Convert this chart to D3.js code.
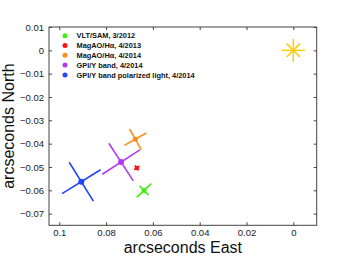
<!DOCTYPE html>
<html><head><meta charset="utf-8">
<script src="https://cdn.jsdelivr.net/npm/d3@7/dist/d3.min.js"></script>
<style>html,body{margin:0;padding:0;background:#fff;}svg{display:block;font-family:"Liberation Sans",Arial,sans-serif;}</style>
</head><body><svg id="c" width="350" height="262"></svg>
<script>
const seriesLabels = ["VLT/SAM, 3/2012", "MagAO/H\u03b1, 4/2013", "MagAO/H\u03b1, 4/2014", "GPI/Y band, 4/2014", "GPI/Y band polarized light, 4/2014"];
const seriesColors = ["#44ee11", "#ff1111", "#ff8c1a", "#b03cf0", "#2244ff"];
const eastOffsets = [0.0638, 0.0669, 0.0675, 0.0736, 0.0906];
const northOffsets = [-0.0601, -0.0504, -0.0381, -0.0479, -0.0563];
const sepErrors = [0.0043, 0.0013, 0.0054, 0.0096, 0.0097];
const tanErrors = [0.0028, 0.0013, 0.0051, 0.0096, 0.0098];
const starPos = [0, 0];
const xTicks = [0.1, 0.08, 0.06, 0.04, 0.02, 0];
const yTicks = [0.01, 0, -0.01, -0.02, -0.03, -0.04, -0.05, -0.06, -0.07];

const svg = d3.select("#c");
const L = 49, R = 316.7, T = 27, B = 225.3;
const x = d3.scaleLinear().domain([0.1044, -0.01]).range([L, R]);
const y = d3.scaleLinear().domain([-0.075, 0.01]).range([B, T]);
const fmt = v => v === 0 ? "0" : (v < 0 ? "\u2212" : "") + String(Math.abs(v));

// frame
svg.append("rect").attr("x", L).attr("y", T).attr("width", R - L).attr("height", B - T)
  .attr("fill", "none").attr("stroke", "#444").attr("stroke-width", 1);

// axes with inward ticks
const ax = svg.append("g").attr("transform", `translate(0,${B})`)
  .call(d3.axisBottom(x).tickValues(xTicks).tickSizeInner(-3).tickSizeOuter(0).tickPadding(4).tickFormat(fmt));
const axT = svg.append("g").attr("transform", `translate(0,${T})`)
  .call(d3.axisTop(x).tickValues(xTicks).tickSizeInner(-3).tickSizeOuter(0).tickFormat(""));
const ay = svg.append("g").attr("transform", `translate(${L},0)`)
  .call(d3.axisLeft(y).tickValues(yTicks).tickSizeInner(-3).tickSizeOuter(0).tickPadding(5).tickFormat(fmt));
const ayR = svg.append("g").attr("transform", `translate(${R},0)`)
  .call(d3.axisRight(y).tickValues(yTicks).tickSizeInner(-3).tickSizeOuter(0).tickFormat(""));
[ax, axT, ay, ayR].forEach(g => {
  g.select(".domain").remove();
  g.selectAll("line").attr("stroke", "#444");
  g.selectAll("text").attr("fill", "#222").style("font-size", "9.5px").style("font-family", "Liberation Sans, Arial, sans-serif");
});

// axis titles
svg.append("text").attr("x", (L + R) / 2).attr("y", 253).attr("text-anchor", "middle")
  .style("font-size", "16px").attr("fill", "#111").text("arcseconds East");
svg.append("text").attr("transform", `translate(14,${(T + B) / 2}) rotate(-90)`).attr("text-anchor", "middle")
  .style("font-size", "16px").attr("fill", "#111").text("arcseconds North");

// star asterisk
const sx = x(starPos[0]), sy = y(starPos[1]);
const star = svg.append("g").attr("stroke", "#ffcc00").attr("stroke-width", 1.5);
[0, 45, 90, 135].forEach(a => {
  const r = (a % 90 === 0) ? 11.5 : 9.5;
  const c = Math.cos(a * Math.PI / 180) * r, s = Math.sin(a * Math.PI / 180) * r;
  star.append("line").attr("x1", sx - c).attr("y1", sy - s).attr("x2", sx + c).attr("y2", sy + s);
});

// error crosses (radial / tangential)
seriesLabels.forEach((lab, i) => {
  const ex = eastOffsets[i], ny = northOffsets[i];
  const r = Math.hypot(ex, ny);
  const ux = ex / r, uy = ny / r;
  const g = svg.append("g").attr("stroke", seriesColors[i]).attr("stroke-width", i === 1 ? 2 : 1.6);
  g.append("line").attr("x1", x(ex - sepErrors[i] * ux)).attr("y1", y(ny - sepErrors[i] * uy))
    .attr("x2", x(ex + sepErrors[i] * ux)).attr("y2", y(ny + sepErrors[i] * uy));
  g.append("line").attr("x1", x(ex + tanErrors[i] * uy)).attr("y1", y(ny - tanErrors[i] * ux))
    .attr("x2", x(ex - tanErrors[i] * uy)).attr("y2", y(ny + tanErrors[i] * ux));
  svg.append("circle").attr("cx", x(ex)).attr("cy", y(ny)).attr("r", i >= 3 ? 3 : (i === 1 ? 2 : 2.5)).attr("fill", seriesColors[i]);
});

// legend
const lg = svg.append("g");
seriesLabels.forEach((lab, i) => {
  const yy = 35.7 + i * 9.8;
  lg.append("circle").attr("cx", 65).attr("cy", yy).attr("r", 2.5).attr("fill", seriesColors[i]);
  lg.append("text").attr("x", 76.5).attr("y", yy + 2.7).style("font-size", "7.4px").style("font-weight", "bold")
    .attr("fill", "#111").text(lab);
});
</script></body></html>
